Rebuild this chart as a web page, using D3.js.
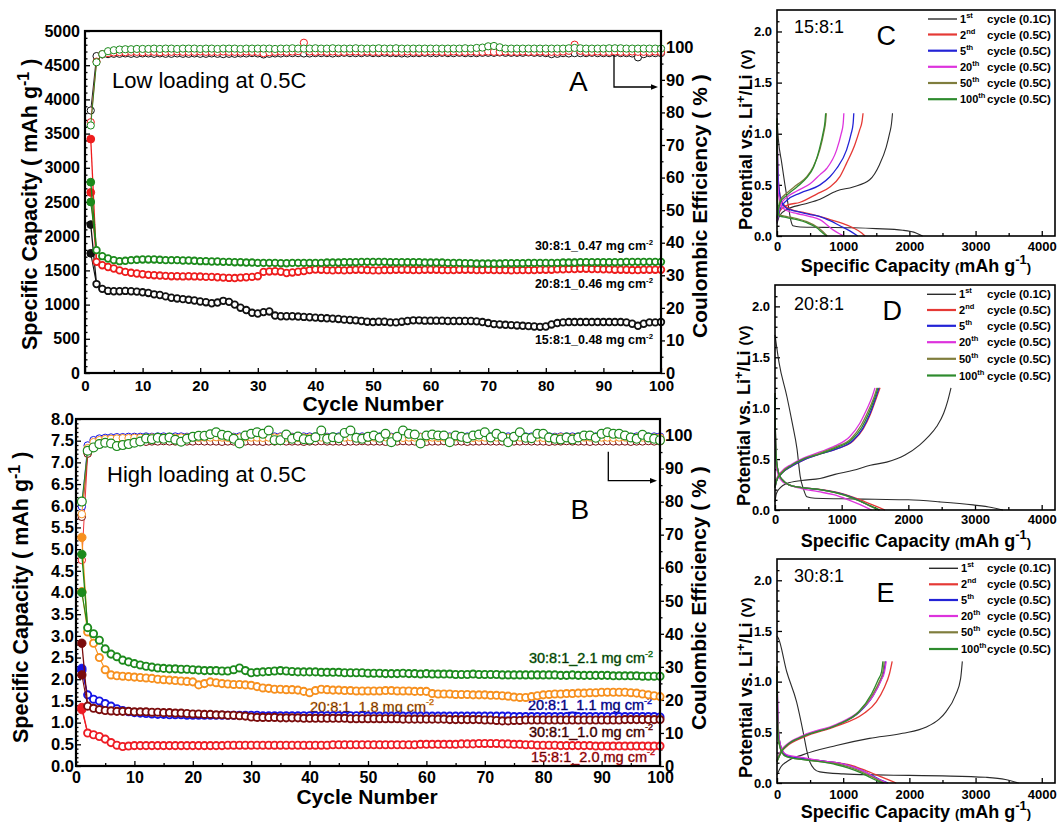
<!DOCTYPE html>
<html>
<head>
<meta charset="utf-8">
<title>Cycling performance and voltage profiles</title>
<script src="https://cdn.jsdelivr.net/npm/d3@7/dist/d3.min.js"></script>
<style>
  html, body { margin: 0; padding: 0; background: #ffffff; }
  svg { display: block; }
  text { font-family: Arial, "Liberation Sans", Helvetica, sans-serif; fill: #000; }
</style>
</head>
<body>
<svg id="fig" width="1058" height="825"></svg>
<script>
// ===== Cycle numbers shared by panels A and B =====
const cycleNumber = d3.range(1, 101);

// ===== Panel A: low loading at 0.5C (capacity in mAh/g, efficiency in %) =====
const lowSeriesNames = ["15:8:1_0.48 mg cm", "20:8:1_0.46 mg cm", "30:8:1_0.47 mg cm"];
const lowColors = ["#111111", "#ee1c1c", "#1b8a1b"];
const lowFirstDischarge = [2170, 3420, 2790];

const low15Capacity = [
  1750, 1300, 1230, 1200, 1195, 1195, 1200, 1195, 1190, 1180,
  1170, 1150, 1140, 1120, 1100, 1090, 1080, 1070, 1060, 1045,
  1035, 1020, 1030, 1055, 1040, 1000, 955, 920, 880, 870,
  890, 900, 840, 830, 830, 830, 825, 820, 815, 810,
  805, 800, 795, 790, 780, 775, 770, 760, 750, 745,
  750, 750, 740, 740, 750, 760, 770, 770, 765, 765,
  765, 765, 760, 760, 760, 760, 760, 755, 745, 730,
  715, 710, 705, 700, 695, 690, 685, 680, 675, 680,
  710, 730, 740, 745, 745, 745, 745, 745, 745, 745,
  745, 745, 745, 740, 720, 690, 720, 740, 740, 745
];
const low20Capacity = [
  2640, 1625, 1576, 1550, 1528, 1500, 1478, 1465, 1455, 1444,
  1435, 1430, 1425, 1420, 1415, 1415, 1412, 1415, 1412, 1410,
  1405, 1405, 1400, 1395, 1390, 1388, 1395, 1400, 1405, 1415,
  1478, 1485, 1488, 1480, 1462, 1470, 1480, 1490, 1505, 1513,
  1510, 1505, 1500, 1505, 1500, 1505, 1510, 1510, 1505, 1500,
  1500, 1505, 1505, 1510, 1510, 1510, 1505, 1505, 1510, 1510,
  1510, 1505, 1505, 1505, 1510, 1510, 1510, 1505, 1505, 1510,
  1505, 1505, 1505, 1500, 1505, 1505, 1505, 1505, 1510, 1510,
  1510, 1515, 1515, 1520, 1520, 1525, 1525, 1520, 1520, 1515,
  1515, 1510, 1510, 1510, 1505, 1505, 1510, 1510, 1510, 1510
];
const low30Capacity = [
  2500, 1796, 1708, 1674, 1650, 1635, 1640, 1650, 1655, 1660,
  1660, 1660, 1655, 1650, 1650, 1650, 1645, 1645, 1640, 1635,
  1635, 1630, 1630, 1625, 1625, 1620, 1620, 1615, 1615, 1610,
  1610, 1610, 1610, 1605, 1605, 1610, 1610, 1610, 1610, 1610,
  1610, 1615, 1615, 1615, 1620, 1620, 1620, 1625, 1625, 1625,
  1625, 1625, 1620, 1620, 1620, 1620, 1620, 1620, 1615, 1615,
  1615, 1615, 1610, 1610, 1610, 1605, 1605, 1600, 1600, 1600,
  1600, 1600, 1605, 1605, 1605, 1605, 1610, 1610, 1610, 1610,
  1610, 1610, 1615, 1615, 1615, 1620, 1620, 1620, 1620, 1620,
  1620, 1620, 1620, 1625, 1625, 1625, 1625, 1625, 1625, 1625
];
const low15Efficiency = [
  80.6, 97.3, 97.8, 97.9, 98.0, 98.0, 98.1, 98.0, 98.0, 98.1,
  98.1, 98.0, 98.1, 98.0, 98.0, 98.1, 98.0, 98.0, 98.1, 98.0,
  98.0, 98.1, 98.0, 97.9, 98.0, 98.0, 98.1, 98.1, 98.2, 98.1,
  97.8, 98.0, 98.1, 98.1, 98.2, 98.2, 98.2, 98.1, 98.1, 98.2,
  98.2, 98.2, 98.1, 98.2, 98.3, 98.2, 98.2, 98.2, 98.3, 98.2,
  98.2, 98.3, 98.2, 98.2, 98.1, 98.1, 98.2, 98.2, 98.3, 98.2,
  98.2, 98.3, 98.2, 98.2, 98.3, 98.2, 98.2, 98.2, 98.3, 98.3,
  98.3, 98.4, 98.3, 98.3, 98.3, 98.3, 98.4, 98.3, 98.3, 98.2,
  97.9, 98.0, 98.2, 98.1, 98.2, 98.2, 98.2, 98.3, 98.2, 98.2,
  98.2, 98.3, 98.2, 98.2, 98.1, 96.9, 97.9, 98.2, 98.2, 98.2
];
const low20Efficiency = [
  77.0, 95.6, 97.9, 98.2, 98.4, 98.5, 98.5, 98.6, 98.6, 98.5,
  98.6, 98.6, 98.5, 98.6, 98.6, 98.7, 98.6, 98.6, 98.6, 98.7,
  98.6, 98.6, 98.6, 98.7, 98.6, 98.6, 98.6, 98.7, 98.6, 98.6,
  98.2, 98.5, 98.6, 98.7, 98.6, 98.7, 98.8, 101.4, 98.7, 98.6,
  98.7, 98.6, 98.7, 98.6, 98.6, 98.7, 98.7, 98.6, 98.7, 98.6,
  98.6, 98.7, 98.6, 98.6, 98.6, 98.7, 98.6, 98.6, 98.6, 98.7,
  98.7, 98.6, 98.6, 98.7, 98.6, 98.6, 98.7, 98.6, 98.6, 98.7,
  98.6, 98.6, 98.7, 98.6, 98.6, 98.7, 98.6, 98.6, 98.7, 98.6,
  98.6, 98.6, 98.7, 98.9, 100.8, 98.9, 98.6, 98.6, 98.7, 98.6,
  98.6, 98.7, 98.6, 98.6, 98.7, 98.6, 98.6, 98.6, 98.7, 98.5
];
const low30Efficiency = [
  76.0, 95.4, 97.9, 98.8, 99.1, 99.3, 99.4, 99.4, 99.5, 99.5,
  99.5, 99.6, 99.5, 99.6, 99.6, 99.5, 99.6, 99.6, 99.6, 99.5,
  99.6, 99.6, 99.5, 99.6, 99.6, 99.6, 99.5, 99.6, 99.6, 99.6,
  99.6, 99.6, 99.5, 99.6, 99.6, 99.7, 99.6, 99.6, 99.6, 99.7,
  99.6, 99.6, 99.7, 99.6, 99.6, 99.6, 99.7, 99.6, 99.6, 99.6,
  99.7, 99.6, 99.6, 99.7, 99.6, 99.6, 99.6, 99.6, 99.6, 99.6,
  99.6, 99.6, 99.6, 99.6, 99.6, 99.7, 99.6, 99.8, 99.9, 100.3,
  100.4, 100.0, 99.6, 99.6, 99.6, 99.6, 99.6, 99.6, 99.6, 99.6,
  99.6, 99.6, 99.6, 99.7, 99.8, 99.7, 99.6, 99.6, 99.6, 99.6,
  99.7, 99.7, 99.7, 99.6, 99.6, 99.6, 99.6, 99.6, 99.6, 99.6
];

// ===== Panel B: high loading at 0.5C (capacity in mAh/g, efficiency in %) =====
const highSeriesNames = ["15:8:1_2.0 mg cm", "30:8:1_1.0 mg cm", "20:8:1_1.1 mg cm", "20:8:1_1.8 mg cm", "30:8:1_2.1 mg cm"];
const highColors = ["#ee1c24", "#7a0c0c", "#1414e6", "#f7901e", "#1c8a1c"];
const highFirstDischarge = [1.35, 2.83, 2.25, 5.27, 4.88];

const high15Capacity = [
  1.30, 0.76, 0.72, 0.68, 0.62, 0.54, 0.48, 0.45, 0.46, 0.47,
  0.47, 0.47, 0.47, 0.47, 0.47, 0.47, 0.47, 0.47, 0.47, 0.47,
  0.47, 0.47, 0.47, 0.47, 0.47, 0.48, 0.48, 0.48, 0.48, 0.48,
  0.48, 0.48, 0.48, 0.48, 0.48, 0.48, 0.48, 0.48, 0.48, 0.48,
  0.48, 0.48, 0.48, 0.49, 0.49, 0.49, 0.49, 0.49, 0.49, 0.49,
  0.49, 0.49, 0.49, 0.49, 0.49, 0.49, 0.49, 0.49, 0.50, 0.50,
  0.50, 0.50, 0.50, 0.50, 0.50, 0.51, 0.51, 0.51, 0.52, 0.52,
  0.52, 0.52, 0.51, 0.51, 0.50, 0.50, 0.49, 0.49, 0.48, 0.48,
  0.48, 0.48, 0.47, 0.47, 0.47, 0.47, 0.47, 0.47, 0.46, 0.46,
  0.46, 0.46, 0.46, 0.46, 0.46, 0.46, 0.46, 0.46, 0.46, 0.46
];
const high30LowCapacity = [
  2.10, 1.38, 1.33, 1.30, 1.28, 1.27, 1.26, 1.26, 1.26, 1.25,
  1.25, 1.25, 1.24, 1.24, 1.23, 1.23, 1.22, 1.22, 1.21, 1.20,
  1.20, 1.19, 1.19, 1.18, 1.18, 1.17, 1.17, 1.16, 1.15, 1.13,
  1.12, 1.12, 1.12, 1.12, 1.11, 1.11, 1.11, 1.11, 1.10, 1.10,
  1.10, 1.10, 1.10, 1.10, 1.10, 1.10, 1.09, 1.09, 1.09, 1.09,
  1.09, 1.09, 1.09, 1.09, 1.09, 1.08, 1.08, 1.08, 1.08, 1.08,
  1.08, 1.08, 1.08, 1.07, 1.07, 1.07, 1.07, 1.07, 1.07, 1.06,
  1.06, 1.05, 1.04, 1.04, 1.05, 1.05, 1.06, 1.06, 1.06, 1.06,
  1.06, 1.06, 1.06, 1.06, 1.06, 1.06, 1.06, 1.06, 1.06, 1.06,
  1.06, 1.06, 1.06, 1.07, 1.07, 1.07, 1.07, 1.07, 1.07, 1.07
];
const high20LowCapacity = [
  2.20, 1.64, 1.54, 1.50, 1.44, 1.38, 1.32, 1.28, 1.25, 1.23,
  1.22, 1.21, 1.20, 1.19, 1.19, 1.18, 1.18, 1.18, 1.17, 1.17,
  1.17, 1.17, 1.17, 1.17, 1.17, 1.17, 1.17, 1.17, 1.17, 1.17,
  1.17, 1.16, 1.16, 1.16, 1.16, 1.16, 1.16, 1.16, 1.16, 1.16,
  1.16, 1.16, 1.16, 1.16, 1.16, 1.16, 1.16, 1.16, 1.16, 1.15,
  1.15, 1.15, 1.15, 1.15, 1.15, 1.15, 1.15, 1.15, 1.15, 1.15,
  1.15, 1.15, 1.15, 1.15, 1.15, 1.15, 1.15, 1.15, 1.15, 1.15,
  1.15, 1.15, 1.15, 1.15, 1.14, 1.14, 1.14, 1.14, 1.14, 1.14,
  1.14, 1.14, 1.14, 1.14, 1.15, 1.14, 1.14, 1.14, 1.14, 1.14,
  1.14, 1.14, 1.14, 1.14, 1.14, 1.14, 1.14, 1.14, 1.14, 1.13
];
const high20HighCapacity = [
  4.02, 3.09, 2.83, 2.50, 2.22, 2.10, 2.08, 2.07, 2.06, 2.05,
  2.04, 2.03, 2.02, 2.00, 1.99, 1.98, 1.97, 1.96, 1.95, 1.94,
  1.87, 1.90, 1.94, 1.92, 1.90, 1.89, 1.88, 1.88, 1.87, 1.86,
  1.83, 1.80, 1.79, 1.77, 1.77, 1.76, 1.76, 1.75, 1.72, 1.69,
  1.74, 1.77, 1.76, 1.75, 1.75, 1.74, 1.74, 1.73, 1.73, 1.73,
  1.73, 1.73, 1.74, 1.74, 1.73, 1.73, 1.73, 1.72, 1.72, 1.72,
  1.67, 1.66, 1.66, 1.66, 1.65, 1.65, 1.65, 1.64, 1.64, 1.64,
  1.63, 1.63, 1.62, 1.61, 1.59, 1.58, 1.58, 1.60, 1.62, 1.64,
  1.65, 1.66, 1.66, 1.67, 1.67, 1.68, 1.68, 1.69, 1.69, 1.70,
  1.70, 1.70, 1.70, 1.70, 1.69, 1.68, 1.66, 1.64, 1.62, 1.60
];
const high30HighCapacity = [
  4.00, 3.19, 3.05, 2.90, 2.70, 2.58, 2.52, 2.44, 2.40, 2.36,
  2.33, 2.30, 2.28, 2.26, 2.25, 2.24, 2.24, 2.23, 2.23, 2.22,
  2.21, 2.20, 2.20, 2.20, 2.19, 2.19, 2.22, 2.26, 2.20, 2.15,
  2.16, 2.17, 2.18, 2.19, 2.20, 2.19, 2.18, 2.17, 2.17, 2.17,
  2.17, 2.16, 2.16, 2.16, 2.16, 2.15, 2.15, 2.15, 2.15, 2.14,
  2.14, 2.14, 2.13, 2.13, 2.13, 2.14, 2.13, 2.13, 2.12, 2.13,
  2.12, 2.12, 2.12, 2.12, 2.11, 2.11, 2.11, 2.12, 2.11, 2.11,
  2.11, 2.11, 2.10, 2.10, 2.10, 2.10, 2.10, 2.10, 2.10, 2.10,
  2.10, 2.10, 2.09, 2.09, 2.10, 2.09, 2.09, 2.09, 2.09, 2.09,
  2.09, 2.08, 2.08, 2.08, 2.08, 2.08, 2.07, 2.07, 2.07, 2.07
];
const high15Efficiency = [
  62.3, 94.6, 97.6, 98.4, 98.8, 99.0, 99.1, 99.2, 99.2, 99.3,
  99.3, 99.4, 99.3, 99.4, 99.4, 99.3, 99.4, 99.4, 99.5, 99.4,
  99.4, 99.4, 99.5, 99.4, 99.4, 99.5, 99.4, 99.4, 99.4, 99.5,
  99.4, 99.4, 99.5, 99.4, 99.4, 99.4, 99.5, 99.4, 99.4, 99.5,
  99.4, 99.4, 99.4, 99.5, 99.4, 99.4, 99.5, 99.4, 99.4, 99.4,
  99.5, 99.4, 99.4, 99.4, 99.5, 99.4, 99.4, 99.5, 99.4, 99.4,
  99.4, 99.5, 99.4, 99.4, 99.4, 99.5, 99.4, 99.4, 99.5, 99.4,
  99.4, 99.4, 99.5, 99.4, 99.4, 99.5, 99.4, 99.4, 99.4, 99.5,
  99.4, 99.4, 99.5, 99.4, 99.4, 99.4, 99.5, 99.4, 99.4, 99.5,
  99.4, 99.4, 99.4, 99.5, 99.4, 99.4, 99.5, 99.4, 99.4, 99.4
];
const high30LowEfficiency = [
  75.4, 94.5, 97.0, 97.6, 97.9, 98.0, 98.1, 98.1, 98.2, 98.2,
  98.2, 98.1, 98.2, 98.2, 98.3, 98.2, 98.2, 98.1, 98.2, 98.2,
  98.3, 98.2, 98.2, 98.2, 98.1, 98.2, 98.2, 98.3, 98.2, 98.2,
  98.2, 98.1, 98.2, 98.2, 98.3, 98.2, 98.2, 98.2, 98.1, 98.2,
  98.2, 98.3, 98.2, 98.2, 98.2, 98.1, 98.2, 98.2, 98.3, 98.2,
  98.2, 98.2, 98.1, 98.2, 98.2, 98.3, 98.2, 98.2, 98.2, 98.1,
  98.2, 98.2, 98.3, 98.2, 98.2, 98.2, 98.1, 98.2, 98.2, 98.3,
  98.2, 98.2, 98.2, 98.1, 98.2, 98.2, 98.3, 98.2, 98.2, 98.2,
  98.1, 98.2, 98.2, 98.3, 98.2, 98.2, 98.2, 98.1, 98.2, 98.2,
  98.3, 98.2, 98.2, 98.2, 98.1, 98.2, 98.2, 98.3, 98.2, 98.2
];
const high20LowEfficiency = [
  78.5, 97.0, 98.6, 99.1, 99.3, 99.4, 99.5, 99.5, 99.6, 99.6,
  99.6, 99.7, 99.6, 99.7, 99.7, 99.6, 99.7, 99.7, 99.6, 99.7,
  99.7, 99.7, 99.6, 99.7, 99.7, 99.7, 99.6, 99.7, 99.7, 99.7,
  99.7, 99.6, 99.7, 99.7, 99.7, 99.7, 99.6, 99.7, 99.7, 99.7,
  99.7, 99.7, 99.6, 99.7, 99.7, 99.7, 99.7, 99.6, 99.7, 99.7,
  99.7, 99.7, 99.7, 99.6, 99.7, 99.7, 99.7, 99.7, 99.6, 99.7,
  99.7, 99.7, 99.7, 99.7, 99.6, 99.7, 99.7, 99.7, 99.7, 99.6,
  99.7, 99.7, 99.7, 99.7, 99.7, 99.6, 99.7, 99.7, 99.7, 99.7,
  99.7, 99.6, 99.7, 99.7, 99.7, 99.7, 99.7, 99.6, 99.7, 99.7,
  99.7, 99.7, 99.7, 99.7, 99.6, 99.7, 99.7, 99.7, 99.7, 99.7
];
const high20HighEfficiency = [
  76.2, 96.2, 98.0, 98.6, 98.9, 99.0, 99.1, 99.2, 99.2, 99.3,
  99.3, 99.3, 99.4, 99.3, 99.4, 99.4, 99.3, 99.4, 99.4, 99.4,
  99.3, 99.4, 99.4, 99.5, 99.4, 99.3, 99.4, 99.4, 99.5, 99.4,
  99.4, 99.3, 99.4, 99.4, 99.5, 99.4, 99.4, 99.3, 99.4, 99.4,
  99.5, 99.4, 99.4, 99.3, 99.4, 99.4, 99.5, 99.4, 99.4, 99.3,
  99.4, 99.4, 99.5, 99.4, 99.4, 99.3, 99.4, 99.4, 99.5, 99.4,
  99.4, 99.3, 99.4, 99.4, 99.5, 99.4, 99.4, 99.3, 99.4, 99.4,
  99.5, 99.4, 99.4, 99.3, 99.4, 99.4, 99.5, 99.4, 99.4, 99.3,
  99.4, 99.4, 99.5, 99.4, 99.4, 99.3, 99.4, 99.4, 99.5, 99.4,
  99.4, 99.3, 99.4, 99.4, 99.5, 99.4, 99.4, 99.3, 99.4, 99.4
];
const high30HighEfficiency = [
  80.0, 95.4, 96.4, 97.4, 97.8, 97.6, 96.8, 97.1, 97.4, 97.8,
  98.2, 99.1, 98.9, 99.3, 99.0, 99.4, 98.7, 98.1, 99.0, 99.6,
  99.9, 99.9, 100.4, 101.0, 100.2, 99.9, 99.0, 97.6, 100.0, 100.5,
  101.0, 100.5, 101.5, 98.6, 98.6, 100.3, 99.0, 99.7, 98.9, 98.7,
  99.5, 101.5, 99.0, 99.5, 99.2, 100.8, 101.5, 99.3, 99.0, 99.6,
  100.0, 99.3, 100.5, 98.0, 99.6, 101.5, 100.5, 100.3, 97.6, 100.0,
  100.3, 100.0, 100.0, 98.0, 100.0, 99.6, 99.2, 100.0, 100.3, 101.0,
  99.4, 100.5, 99.6, 98.0, 99.6, 101.0, 99.3, 99.2, 100.5, 100.5,
  99.4, 99.0, 98.8, 99.4, 98.8, 99.4, 100.0, 100.0, 99.3, 100.5,
  101.0, 100.5, 100.5, 100.0, 99.4, 99.0, 100.2, 99.4, 99.0, 98.6
];

// ===== Panels C-E: voltage profiles, [capacity mAh/g, potential V] =====
const profileOrdinal = ["1", "2", "5", "20", "50", "100"];
const profileSuffix = ["st", "nd", "th", "th", "th", "th"];
const profileRate = ["cycle (0.1C)", "cycle (0.5C)", "cycle (0.5C)", "cycle (0.5C)", "cycle (0.5C)", "cycle (0.5C)"];
const profileColors = ["#2b2b2b", "#e53935", "#2323d6", "#dd33dd", "#7f7d3d", "#2e8b2e"];

const ratio15Discharge = [
  [[0,1.15],[20,0.95],[70,0.72],[120,0.5],[170,0.3],[210,0.15],[240,0.1],[350,0.088],[700,0.084],[1150,0.08],[1500,0.072],[1900,0.056],[2100,0.03],[2200,0.0]],
  [[0,1.12],[8,0.8],[25,0.5],[70,0.34],[150,0.28],[250,0.25],[400,0.23],[600,0.2],[800,0.16],[1000,0.12],[1150,0.08],[1280,0.03],[1330,0.0]],
  [[0,1.1],[8,0.8],[25,0.5],[70,0.33],[146,0.27],[300,0.24],[500,0.21],[650,0.19],[800,0.15],[950,0.1],[1100,0.05],[1220,0.0]],
  [[0,1.05],[6,0.7],[20,0.42],[70,0.29],[146,0.25],[300,0.22],[500,0.19],[647,0.16],[847,0.06],[950,0.02],[1008,0.0]],
  [[0,1.1],[3,0.6],[10,0.3],[30,0.21],[150,0.19],[300,0.17],[450,0.14],[600,0.09],[700,0.04],[760,0.0]],
  [[0,1.15],[3,0.6],[10,0.3],[30,0.2],[150,0.18],[300,0.16],[450,0.13],[600,0.08],[690,0.03],[750,0.0]]
];
const ratio15Charge = [
  [[0,0.12],[40,0.2],[150,0.26],[400,0.31],[650,0.36],[900,0.44],[1150,0.48],[1400,0.55],[1550,0.7],[1650,0.87],[1700,1.0],[1730,1.1],[1745,1.2]],
  [[0,0.14],[50,0.25],[150,0.3],[350,0.33],[600,0.41],[800,0.48],[950,0.58],[1050,0.71],[1180,0.9],[1250,1.04],[1285,1.12],[1300,1.2]],
  [[0,0.14],[50,0.27],[150,0.35],[350,0.42],[650,0.5],[800,0.58],[900,0.66],[1050,0.84],[1120,1.0],[1150,1.1],[1160,1.2]],
  [[0,0.15],[50,0.3],[150,0.38],[300,0.44],[500,0.51],[650,0.6],[750,0.66],[900,0.84],[970,1.0],[1000,1.1],[1010,1.2]],
  [[0,0.18],[50,0.35],[150,0.42],[300,0.5],[450,0.58],[550,0.68],[650,0.85],[710,1.02],[735,1.12],[745,1.2]],
  [[0,0.17],[50,0.33],[150,0.4],[300,0.48],[450,0.57],[550,0.67],[640,0.85],[700,1.02],[725,1.12],[735,1.2]]
];
const ratio20Discharge = [
  [[0,1.72],[60,1.45],[180,1.11],[260,0.85],[330,0.6],[378,0.33],[430,0.2],[478,0.13],[600,0.115],[1000,0.11],[1500,0.105],[2000,0.1],[2470,0.08],[2970,0.05],[3250,0.025],[3420,0.0]],
  [[0,1.15],[5,0.8],[20,0.5],[60,0.35],[120,0.29],[200,0.25],[400,0.22],[700,0.2],[950,0.17],[1200,0.12],[1350,0.08],[1500,0.04],[1650,0.0]],
  [[0,1.12],[5,0.8],[20,0.5],[60,0.35],[120,0.29],[200,0.25],[400,0.22],[675,0.2],[925,0.17],[1175,0.12],[1300,0.08],[1430,0.04],[1560,0.0]],
  [[0,1.0],[4,0.7],[15,0.45],[50,0.34],[110,0.28],[200,0.25],[400,0.21],[650,0.18],[880,0.15],[1100,0.1],[1250,0.06],[1350,0.03],[1450,0.0]],
  [[0,1.1],[5,0.8],[20,0.5],[60,0.35],[120,0.29],[200,0.25],[400,0.22],[675,0.2],[900,0.17],[1150,0.12],[1300,0.08],[1420,0.04],[1560,0.0]],
  [[0,1.15],[5,0.8],[20,0.5],[60,0.35],[120,0.29],[200,0.25],[400,0.22],[675,0.2],[910,0.17],[1160,0.12],[1300,0.08],[1430,0.04],[1575,0.0]]
];
const ratio20Charge = [
  [[0,0.08],[20,0.16],[80,0.22],[175,0.26],[400,0.29],[675,0.31],[900,0.35],[1175,0.39],[1430,0.44],[1675,0.47],[1950,0.54],[2172,0.64],[2300,0.72],[2425,0.82],[2530,0.95],[2590,1.07],[2640,1.2]],
  [[0,0.22],[25,0.29],[100,0.36],[250,0.43],[425,0.49],[675,0.55],[925,0.6],[1175,0.68],[1325,0.8],[1425,0.93],[1510,1.08],[1575,1.2]],
  [[0,0.22],[25,0.29],[100,0.36],[250,0.43],[425,0.49],[675,0.55],[925,0.6],[1165,0.68],[1315,0.8],[1415,0.93],[1500,1.08],[1560,1.2]],
  [[0,0.24],[25,0.31],[100,0.38],[250,0.45],[425,0.51],[675,0.57],[900,0.63],[1120,0.72],[1270,0.85],[1370,0.98],[1450,1.1],[1500,1.2]],
  [[0,0.23],[25,0.3],[100,0.37],[250,0.44],[425,0.5],[675,0.56],[910,0.62],[1140,0.7],[1290,0.83],[1390,0.96],[1475,1.09],[1530,1.2]],
  [[0,0.22],[25,0.29],[100,0.36],[250,0.44],[425,0.5],[675,0.55],[915,0.61],[1150,0.69],[1300,0.81],[1400,0.94],[1485,1.08],[1545,1.2]]
];
const ratio30Discharge = [
  [[0,1.45],[20,1.43],[146,1.1],[296,0.8],[396,0.5],[450,0.32],[496,0.21],[560,0.14],[647,0.11],[1000,0.09],[1500,0.08],[2000,0.075],[2500,0.07],[3153,0.056],[3450,0.035],[3650,0.0]],
  [[0,1.15],[8,0.8],[30,0.45],[80,0.32],[146,0.27],[400,0.24],[650,0.22],[900,0.2],[1150,0.17],[1350,0.12],[1500,0.08],[1650,0.04],[1800,0.0]],
  [[0,1.12],[8,0.8],[30,0.45],[80,0.32],[146,0.27],[400,0.24],[650,0.22],[900,0.2],[1100,0.17],[1300,0.12],[1420,0.08],[1560,0.03],[1680,0.0]],
  [[0,1.1],[8,0.8],[30,0.45],[80,0.32],[146,0.28],[400,0.25],[650,0.22],[900,0.2],[1100,0.17],[1300,0.12],[1410,0.08],[1550,0.03],[1660,0.0]],
  [[0,1.05],[6,0.7],[25,0.42],[75,0.3],[146,0.26],[400,0.23],[650,0.21],[900,0.19],[1080,0.16],[1280,0.11],[1400,0.07],[1530,0.03],[1620,0.0]],
  [[0,1.15],[6,0.7],[25,0.42],[75,0.3],[146,0.26],[400,0.23],[650,0.21],[900,0.18],[1070,0.15],[1270,0.1],[1390,0.06],[1520,0.02],[1600,0.0]]
];
const ratio30Charge = [
  [[0,0.08],[60,0.16],[146,0.21],[396,0.28],[896,0.37],[1397,0.44],[1897,0.49],[2248,0.55],[2450,0.63],[2549,0.7],[2699,0.87],[2774,1.03],[2800,1.2]],
  [[0,0.21],[60,0.3],[146,0.36],[396,0.45],[896,0.56],[1300,0.68],[1500,0.8],[1620,0.94],[1700,1.08],[1740,1.2]],
  [[0,0.22],[60,0.31],[146,0.37],[396,0.46],[896,0.57],[1247,0.7],[1450,0.86],[1560,1.0],[1615,1.1],[1640,1.2]],
  [[0,0.23],[60,0.32],[146,0.38],[396,0.47],[896,0.58],[1247,0.71],[1460,0.87],[1570,1.01],[1625,1.1],[1650,1.2]],
  [[0,0.22],[60,0.31],[146,0.37],[396,0.46],[896,0.57],[1240,0.7],[1440,0.87],[1545,1.0],[1600,1.1],[1620,1.2]],
  [[0,0.21],[60,0.3],[146,0.37],[396,0.46],[896,0.57],[1230,0.7],[1430,0.88],[1530,1.02],[1580,1.1],[1600,1.2]]
];

// ===== Drawing helpers =====
const root = d3.select("#fig");

function styleAxis(sel, fontSize) {
  sel.select(".domain").remove();
  sel.selectAll(".tick line").attr("stroke", "#000").attr("stroke-width", 1.3);
  sel.selectAll(".tick text")
    .attr("font-size", fontSize).attr("font-weight", "bold")
    .attr("font-family", "Arial, 'Liberation Sans', sans-serif").attr("fill", "#000");
  return sel;
}

function minorValues(start, stop, step, major) {
  const out = [];
  for (let v = start + step; v < stop - step / 2; v += step) {
    const q = v / major;
    if (Math.abs(q - Math.round(q)) > 1e-6) out.push(+v.toFixed(6));
  }
  return out;
}

// text made of runs; each run: [string, fontSize, dy]
function richText(parent, parts, attrs) {
  const t = parent.append("text");
  Object.entries(attrs).forEach(([k, v]) => t.attr(k, v));
  parts.forEach(([s, size, dy]) => {
    t.append("tspan").attr("font-size", size).attr("dy", dy || 0).text(s);
  });
  return t;
}

function arrow(parent, x0, y0, y1, x1) {
  parent.append("path")
    .attr("d", `M${x0},${y0}V${y1}H${x1 - 5}`)
    .attr("fill", "none").attr("stroke", "#000").attr("stroke-width", 1.3);
  parent.append("path")
    .attr("d", `M${x1 - 7},${y1 - 2.8}L${x1},${y1}L${x1 - 7},${y1 + 2.8}Z`)
    .attr("fill", "#000");
}

// ===== Cycling panel (A and B) =====
function cyclingPanel(p) {
  const g = root.append("g");
  const x = d3.scaleLinear([0, 100], [p.left, p.right]);
  const y = d3.scaleLinear([0, p.capMax], [p.bottom, p.top]);
  const yr = d3.scaleLinear([0, 105], [p.bottom, p.top]);

  // axes
  styleAxis(g.append("g").attr("transform", `translate(0,${p.bottom})`)
    .call(d3.axisBottom(x).tickValues(d3.range(0, 101, 10)).tickSize(-5).tickPadding(p.xPad)), p.xFont);
  styleAxis(g.append("g").attr("transform", `translate(0,${p.bottom})`)
    .call(d3.axisBottom(x).tickValues(d3.range(5, 100, 10)).tickSize(-3).tickFormat("")), p.xFont);
  styleAxis(g.append("g").attr("transform", `translate(${p.left},0)`)
    .call(d3.axisLeft(y).tickValues(d3.range(0, p.capMax + p.capStep / 2, p.capStep))
      .tickSize(-5).tickPadding(p.yPad).tickFormat(p.capFormat)), p.yFont);
  styleAxis(g.append("g").attr("transform", `translate(${p.left},0)`)
    .call(d3.axisLeft(y).tickValues(minorValues(0, p.capMax, p.capMinor, p.capStep))
      .tickSize(-2.5).tickFormat("")), p.yFont);
  styleAxis(g.append("g").attr("transform", `translate(${p.right},0)`)
    .call(d3.axisRight(yr).tickValues(d3.range(0, 101, 10)).tickSize(4).tickPadding(1)), p.rFont);
  styleAxis(g.append("g").attr("transform", `translate(${p.right},0)`)
    .call(d3.axisRight(yr).tickValues(d3.range(5, 100, 10)).tickSize(2.5).tickFormat("")), p.rFont);

  // series labels (beneath the markers)
  p.labels.forEach(l => {
    richText(g, [[l.text, l.size, 0], ["-2", l.size * 0.62, -l.size * 0.42]], {
      x: l.x, y: l.y, "text-anchor": l.anchor, "font-weight": l.weight,
      fill: l.color, stroke: l.stroke ? l.color : "none", "stroke-width": l.stroke || 0
    });
  });

  // coulombic efficiency (right axis)
  p.series.forEach(s => {
    g.append("path")
      .attr("d", d3.line().x((d, i) => x(cycleNumber[i])).y(d => yr(d))(s.ce))
      .attr("fill", "none").attr("stroke", s.color).attr("stroke-width", 0.9);
    g.append("g").selectAll("circle").data(s.ce).join("circle")
      .attr("cx", (d, i) => x(cycleNumber[i])).attr("cy", d => yr(d))
      .attr("r", s.ceR).attr("fill", "#fff").attr("stroke", s.color).attr("stroke-width", s.ceW);
  });

  // specific capacity (left axis)
  p.capOrder.forEach(k => {
    const s = p.series[k];
    g.append("path")
      .attr("d", d3.line()([[x(1), y(s.first)], [x(2), y(s.cap[1])]]))
      .attr("fill", "none").attr("stroke", s.color).attr("stroke-width", 1.3);
    g.append("path")
      .attr("d", d3.line().x((d, i) => x(cycleNumber[i])).y(d => y(d))(s.cap))
      .attr("fill", "none").attr("stroke", s.color).attr("stroke-width", 1.1);
    g.append("g").selectAll("circle").data(s.cap.slice(1)).join("circle")
      .attr("cx", (d, i) => x(cycleNumber[i + 1])).attr("cy", d => y(d))
      .attr("r", p.capR).attr("fill", "#fff").attr("stroke", s.color).attr("stroke-width", p.capW);
    [s.cap[0], s.first].forEach(v => {
      g.append("circle").attr("cx", x(1)).attr("cy", y(v)).attr("r", p.capR + 0.6)
        .attr("fill", s.color).attr("stroke", s.color).attr("stroke-width", 1);
    });
  });

  // frame
  g.append("rect").attr("x", p.left).attr("y", p.top)
    .attr("width", p.right - p.left).attr("height", p.bottom - p.top)
    .attr("fill", "none").attr("stroke", "#000").attr("stroke-width", 2.2);

  // titles
  richText(g, [["Specific Capacity ( mAh g", 21.5, 0], ["-1", 16, -8], [" )", 21.5, 8]], {
    transform: `translate(${p.left - 48},${p.capTitleY}) rotate(-90)`, "font-weight": "bold"
  });
  richText(g, [["Coulombic Efficiency ( % )", 21, 0]], {
    transform: `translate(${p.right + 46},${p.ceTitleY}) rotate(-90)`, "font-weight": "bold"
  });
  richText(g, [["Cycle Number", 21, 0]], {
    x: p.xTitleX, y: p.xTitleY, "text-anchor": "middle", "font-weight": "bold"
  });
  richText(g, [[p.note, 22, 0]], { x: p.noteX, y: p.noteY });
  richText(g, [[p.letter, 28, 0]], { x: p.letterX, y: p.letterY });
  arrow(g, p.arrow[0], p.arrow[1], p.arrow[2], p.arrow[3]);
}

// ===== Voltage profile panel (C, D, E) =====
function profilePanel(p) {
  const g = root.append("g");
  const x = d3.scaleLinear([0, 4200], [p.left, p.right]);
  const y = d3.scaleLinear([0, 2.21], [p.bottom, p.top]);

  styleAxis(g.append("g").attr("transform", `translate(0,${p.bottom})`)
    .call(d3.axisBottom(x).tickValues(d3.range(0, 4001, 1000)).tickSize(-5)
      .tickPadding(p.xPad).tickFormat(d3.format("d"))), 13);
  styleAxis(g.append("g").attr("transform", `translate(0,${p.bottom})`)
    .call(d3.axisBottom(x).tickValues(d3.range(500, 4200, 1000)).tickSize(-3).tickFormat("")), 13);
  styleAxis(g.append("g").attr("transform", `translate(${p.left},0)`)
    .call(d3.axisLeft(y).tickValues([0, 0.5, 1.0, 1.5, 2.0]).tickSize(-5).tickPadding(5).tickFormat(d3.format(".1f"))), 13);
  styleAxis(g.append("g").attr("transform", `translate(${p.left},0)`)
    .call(d3.axisLeft(y).tickValues(minorValues(0, 2.2, 0.1, 0.5)).tickSize(-2.5).tickFormat("")), 13);

  const line = d3.line().x(d => x(d[0])).y(d => y(d[1])).curve(d3.curveMonotoneX);
  [0, 1, 2, 3, 4, 5].forEach(i => {
    [p.discharge[i], p.charge[i]].forEach(pts => {
      g.append("path").attr("d", line(pts)).attr("fill", "none")
        .attr("stroke", profileColors[i]).attr("stroke-width", i === 0 ? 1.1 : 1.3);
    });
  });

  // legend
  p.legendY.forEach((ly, i) => {
    g.append("line").attr("x1", p.legendX).attr("x2", p.legendX + 29).attr("y1", ly).attr("y2", ly)
      .attr("stroke", profileColors[i]).attr("stroke-width", i === 0 ? 1.4 : 2.2);
    richText(g, [[profileOrdinal[i], 11, 0], [profileSuffix[i], 7.5, -5]], {
      x: p.legendX + 32, y: ly + 4, "font-weight": "bold"
    });
    richText(g, [[profileRate[i], 11.5, 0]], { x: 987, y: ly + 4, "font-weight": "bold" });
  });

  g.append("rect").attr("x", p.left).attr("y", p.top)
    .attr("width", p.right - p.left).attr("height", p.bottom - p.top)
    .attr("fill", "none").attr("stroke", "#000").attr("stroke-width", 1.6);

  richText(g, [["Potential vs. Li", 18, 0], ["+", 13, -7], ["/Li ", 18, 7], ["(V)", 15, 0]], {
    transform: `translate(${p.left - 25},${p.yTitleY}) rotate(-90)`, "font-weight": "bold"
  });
  richText(g, [["Specific Capacity ", 18, 0], ["(", 13, 0], ["mAh g", 18, 0], ["-1", 13, -8], [")", 13, 8]], {
    x: 916, y: p.xTitleY, "text-anchor": "middle", "font-weight": "bold"
  });
  richText(g, [[p.ratio, 18, 0]], { x: 794, y: p.ratioY });
  richText(g, [[p.letter, 27, 0]], { x: p.letterX, y: p.letterY });
}

// ===== Panel A =====
cyclingPanel({
  left: 85, right: 661, top: 31, bottom: 373,
  capMax: 5000, capStep: 500, capMinor: 100, capFormat: d3.format("d"),
  xPad: 7, yPad: 5, xFont: 15, yFont: 16, rFont: 16.5,
  capR: 3.3, capW: 1.8,
  series: [
    { cap: low15Capacity, ce: low15Efficiency, first: lowFirstDischarge[0], color: lowColors[0], ceR: 3.6, ceW: 1 },
    { cap: low20Capacity, ce: low20Efficiency, first: lowFirstDischarge[1], color: lowColors[1], ceR: 3.6, ceW: 1 },
    { cap: low30Capacity, ce: low30Efficiency, first: lowFirstDischarge[2], color: lowColors[2], ceR: 3.6, ceW: 1 }
  ],
  capOrder: [0, 1, 2],
  labels: [
    { text: lowSeriesNames[2], x: 653, y: 250, anchor: "end", size: 12.5, weight: "bold", color: lowColors[2] },
    { text: lowSeriesNames[1], x: 653, y: 288, anchor: "end", size: 12.5, weight: "bold", color: lowColors[1] },
    { text: lowSeriesNames[0], x: 653, y: 344, anchor: "end", size: 12.5, weight: "bold", color: "#222" }
  ],
  capTitleY: 350, ceTitleY: 338, xTitleX: 373, xTitleY: 411,
  note: "Low loading at 0.5C", noteX: 112, noteY: 88,
  letter: "A", letterX: 569, letterY: 90.5,
  arrow: [614, 55, 87, 658]
});

// ===== Panel B =====
cyclingPanel({
  left: 76, right: 660, top: 419, bottom: 766,
  capMax: 8, capStep: 0.5, capMinor: 0.1, capFormat: d3.format(".1f"),
  xPad: 6, yPad: 2, xFont: 16, yFont: 16.5, rFont: 16.5,
  capR: 3.6, capW: 1.9,
  series: [
    { cap: high15Capacity, ce: high15Efficiency, first: highFirstDischarge[0], color: highColors[0], ceR: 3.7, ceW: 1 },
    { cap: high30LowCapacity, ce: high30LowEfficiency, first: highFirstDischarge[1], color: highColors[1], ceR: 3.7, ceW: 1 },
    { cap: high20LowCapacity, ce: high20LowEfficiency, first: highFirstDischarge[2], color: highColors[2], ceR: 3.7, ceW: 1 },
    { cap: high20HighCapacity, ce: high20HighEfficiency, first: highFirstDischarge[3], color: highColors[3], ceR: 3.7, ceW: 1 },
    { cap: high30HighCapacity, ce: high30HighEfficiency, first: highFirstDischarge[4], color: highColors[4], ceR: 4.4, ceW: 1.2 }
  ],
  capOrder: [0, 2, 1, 3, 4],
  labels: [
    { text: highSeriesNames[4], x: 653, y: 663, anchor: "end", size: 14.5, weight: "normal", color: highColors[4], stroke: 0.45 },
    { text: highSeriesNames[3], x: 310, y: 711.5, anchor: "start", size: 14.5, weight: "normal", color: highColors[3], stroke: 0.45 },
    { text: highSeriesNames[2], x: 652, y: 710, anchor: "end", size: 14.5, weight: "normal", color: highColors[2], stroke: 0.45 },
    { text: highSeriesNames[1], x: 653, y: 736.5, anchor: "end", size: 14.5, weight: "normal", color: highColors[1], stroke: 0.45 },
    { text: highSeriesNames[0], x: 655, y: 761.5, anchor: "end", size: 14.5, weight: "normal", color: highColors[0], stroke: 0.45 }
  ],
  capTitleY: 743, ceTitleY: 730, xTitleX: 367, xTitleY: 804,
  note: "High loading at 0.5C", noteX: 107, noteY: 481.5,
  letter: "B", letterX: 570.5, letterY: 519,
  arrow: [608.3, 451.7, 480.7, 657]
});

// ===== Panels C, D, E =====
profilePanel({
  left: 777, right: 1055, top: 10, bottom: 236, xPad: 6,
  discharge: ratio15Discharge, charge: ratio15Charge,
  legendX: 928, legendY: [19, 34.5, 50.7, 66.8, 83, 99.2],
  yTitleY: 230, xTitleY: 271.5,
  ratio: "15:8:1", ratioY: 33.3, letter: "C", letterX: 876.5, letterY: 45
});
profilePanel({
  left: 775, right: 1055, top: 285, bottom: 510, xPad: 5,
  discharge: ratio20Discharge, charge: ratio20Charge,
  legendX: 927, legendY: [294.3, 310, 325.8, 342.2, 358.8, 375.5],
  yTitleY: 506, xTitleY: 546.5,
  ratio: "20:8:1", ratioY: 310, letter: "D", letterX: 882.5, letterY: 320
});
profilePanel({
  left: 777, right: 1055, top: 559, bottom: 783, xPad: 7,
  discharge: ratio30Discharge, charge: ratio30Charge,
  legendX: 929, legendY: [568.3, 584.3, 600, 616, 632.3, 649],
  yTitleY: 778, xTitleY: 818,
  ratio: "30:8:1", ratioY: 581.7, letter: "E", letterX: 876.5, letterY: 601.7
});
</script>
</body>
</html>
